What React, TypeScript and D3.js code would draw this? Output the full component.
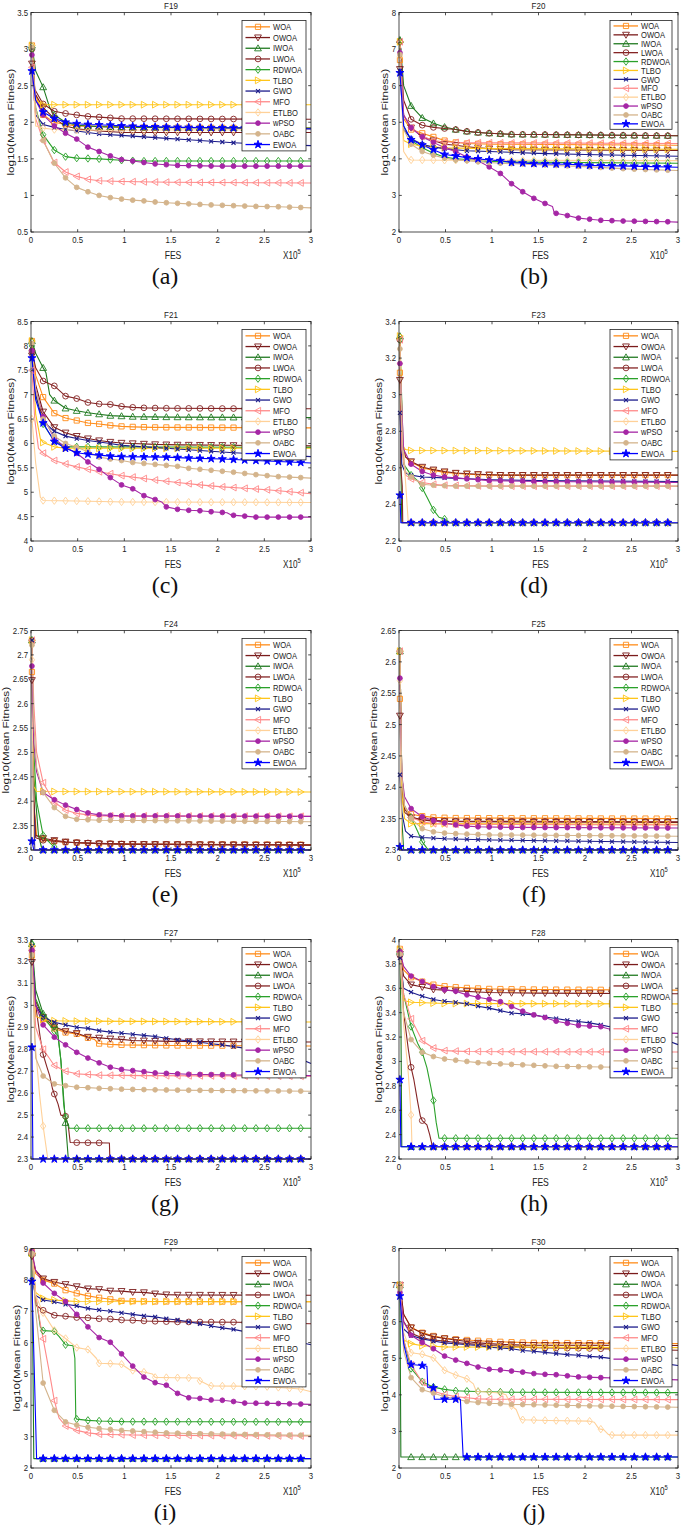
import React from "react";
import * as d3 from "d3";

type Pt = [number, number];

const ALGORITHMS = ["WOA", "OWOA", "IWOA", "LWOA", "RDWOA", "TLBO", "GWO", "MFO", "ETLBO", "wPSO", "OABC", "EWOA"];
const COLORS = ["#FF8C1A", "#7B1C1C", "#217A21", "#852424", "#2AA12A", "#FFC51A", "#1C1C8C", "#FF8A8A", "#FFD199", "#A526A5", "#D4B48C", "#0000FF"];
const MARKER_TYPES = ["square", "triDown", "triUp", "circle", "diamond", "triRight", "cross", "triLeft", "diamond", "dot", "dot", "star"];
const X_TICKS = [0, 0.5, 1, 1.5, 2, 2.5, 3];
const MARKER_FES = [0.01, 0.13, 0.25, 0.37, 0.49, 0.61, 0.73, 0.85, 0.97, 1.09, 1.21, 1.33, 1.45, 1.57, 1.69, 1.81, 1.93, 2.05, 2.17, 2.29, 2.41, 2.53, 2.65, 2.77, 2.89];

// ---------- F19 ----------
const F19_DATA: Pt[][] = [
  [[0.01, 3.05], [0.04, 2.4], [0.13, 2.1], [0.25, 2.0], [0.37, 1.97], [0.49, 1.95], [0.73, 1.94], [1.0, 1.93], [3.0, 1.92]],
  [[0.01, 2.8], [0.04, 2.4], [0.13, 2.2], [0.25, 2.05], [0.37, 1.95], [0.49, 1.91], [0.73, 1.88], [1.0, 1.86], [3.0, 1.86]],
  [[0.01, 3.05], [0.05, 2.7], [0.13, 2.48], [0.2, 2.2], [0.25, 2.1], [0.37, 2.0], [0.49, 1.96], [0.73, 1.94], [1.2, 1.93], [3.0, 1.92]],
  [[0.01, 3.0], [0.04, 2.45], [0.13, 2.25], [0.25, 2.15], [0.37, 2.12], [0.49, 2.1], [0.61, 2.08], [0.73, 2.07], [0.85, 2.06], [0.97, 2.05], [3.0, 2.04]],
  [[0.01, 3.0], [0.05, 2.2], [0.13, 1.83], [0.25, 1.62], [0.37, 1.53], [0.49, 1.51], [0.73, 1.5], [0.97, 1.48], [1.2, 1.47], [3.0, 1.47]],
  [[0.01, 3.05], [0.05, 2.3], [0.13, 2.24], [3.0, 2.24]],
  [[0.01, 2.7], [0.05, 2.1], [0.13, 1.97], [0.25, 1.93], [0.37, 1.9], [0.49, 1.88], [0.61, 1.86], [0.73, 1.84], [0.97, 1.82], [1.21, 1.8], [1.45, 1.78], [1.69, 1.76], [1.93, 1.74], [2.17, 1.72], [2.53, 1.7], [3.0, 1.68]],
  [[0.01, 2.75], [0.05, 2.05], [0.13, 1.75], [0.25, 1.45], [0.37, 1.32], [0.49, 1.26], [0.61, 1.22], [0.73, 1.2], [0.97, 1.19], [1.5, 1.18], [3.0, 1.17]],
  [[0.01, 3.05], [0.05, 1.95], [0.13, 1.92], [0.25, 1.9], [0.5, 1.89], [3.0, 1.9]],
  [[0.01, 2.92], [0.05, 2.3], [0.13, 2.1], [0.25, 1.95], [0.37, 1.85], [0.49, 1.77], [0.61, 1.66], [0.73, 1.6], [0.85, 1.54], [0.97, 1.49], [1.09, 1.47], [1.21, 1.45], [1.33, 1.43], [1.45, 1.42], [1.57, 1.41], [2.0, 1.4], [3.0, 1.4]],
  [[0.01, 3.02], [0.05, 2.2], [0.13, 1.75], [0.25, 1.44], [0.37, 1.24], [0.49, 1.11], [0.61, 1.05], [0.73, 1.0], [0.85, 0.97], [0.97, 0.95], [1.09, 0.935], [1.21, 0.925], [1.33, 0.91], [1.45, 0.9], [1.69, 0.885], [1.93, 0.87], [2.17, 0.86], [2.41, 0.85], [2.65, 0.845], [2.89, 0.835], [3.0, 0.83]],
  [[0.01, 2.7], [0.05, 2.3], [0.13, 2.14], [0.25, 2.05], [0.37, 2.0], [0.49, 1.98], [0.61, 1.97], [0.85, 1.96], [0.97, 1.95], [1.2, 1.94], [1.6, 1.93], [3.0, 1.91]],
];

// ---------- F20 ----------
const F20_DATA: Pt[][] = [
  [[0.01, 6.7], [0.05, 5.1], [0.13, 4.8], [0.25, 4.7], [0.37, 4.6], [0.49, 4.5], [0.61, 4.45], [0.73, 4.42], [1.0, 4.4], [3.0, 4.37]],
  [[0.01, 6.45], [0.05, 5.2], [0.13, 4.85], [0.25, 4.6], [0.37, 4.5], [0.49, 4.4], [0.61, 4.37], [0.73, 4.33], [0.85, 4.3], [0.97, 4.28], [1.21, 4.25], [3.0, 4.23]],
  [[0.01, 7.25], [0.05, 6.0], [0.13, 5.45], [0.25, 5.12], [0.37, 4.97], [0.49, 4.87], [0.61, 4.8], [0.73, 4.75], [0.85, 4.72], [0.97, 4.7], [1.21, 4.67], [3.0, 4.63]],
  [[0.01, 7.2], [0.05, 5.6], [0.13, 5.08], [0.25, 4.92], [0.37, 4.86], [0.49, 4.83], [0.61, 4.8], [0.73, 4.75], [0.85, 4.72], [0.97, 4.7], [1.21, 4.67], [3.0, 4.63]],
  [[0.01, 7.2], [0.05, 4.9], [0.13, 4.5], [0.25, 4.3], [0.37, 4.15], [0.49, 4.05], [0.61, 4.0], [0.73, 3.98], [0.97, 3.93], [1.3, 3.91], [3.0, 3.88]],
  [[0.01, 7.2], [0.05, 4.5], [0.13, 4.4], [0.25, 4.35], [0.49, 4.3], [1.0, 4.28], [3.0, 4.26]],
  [[0.01, 6.4], [0.05, 4.8], [0.13, 4.55], [0.25, 4.4], [0.37, 4.32], [0.49, 4.28], [0.61, 4.25], [0.73, 4.22], [0.97, 4.2], [1.5, 4.15], [2.0, 4.12], [3.0, 4.07]],
  [[0.01, 7.2], [0.05, 5.2], [0.13, 4.85], [0.25, 4.62], [0.37, 4.5], [0.49, 4.46], [0.73, 4.44], [3.0, 4.42]],
  [[0.01, 6.8], [0.05, 4.2], [0.1, 4.0], [0.13, 3.97], [0.49, 3.96], [1.0, 3.96], [3.0, 3.95]],
  [[0.01, 6.9], [0.05, 5.2], [0.13, 4.85], [0.25, 4.6], [0.37, 4.45], [0.49, 4.3], [0.61, 4.2], [0.73, 4.05], [0.85, 3.95], [0.97, 3.78], [1.09, 3.6], [1.21, 3.32], [1.33, 3.1], [1.45, 2.92], [1.57, 2.78], [1.65, 2.7], [1.67, 2.52], [1.81, 2.45], [1.93, 2.38], [2.05, 2.35], [2.17, 2.32], [2.29, 2.31], [2.41, 2.3], [2.65, 2.29], [2.89, 2.28], [3.0, 2.27]],
  [[0.01, 6.85], [0.05, 4.8], [0.13, 4.4], [0.25, 4.2], [0.37, 4.1], [0.49, 4.02], [0.61, 3.97], [0.73, 3.95], [0.85, 3.92], [0.97, 3.9], [1.09, 3.88], [1.5, 3.84], [2.05, 3.78], [2.5, 3.72], [3.0, 3.68]],
  [[0.01, 6.35], [0.05, 4.9], [0.13, 4.52], [0.25, 4.38], [0.37, 4.25], [0.49, 4.12], [0.61, 4.08], [0.73, 4.03], [0.85, 4.0], [0.97, 3.97], [1.09, 3.95], [1.21, 3.9], [1.45, 3.87], [1.81, 3.85], [2.05, 3.82], [2.5, 3.8], [3.0, 3.77]],
];

// ---------- F21 ----------
const F21_DATA: Pt[][] = [
  [[0.01, 8.1], [0.05, 7.4], [0.13, 6.95], [0.25, 6.62], [0.37, 6.52], [0.49, 6.47], [0.61, 6.42], [0.73, 6.4], [0.85, 6.37], [0.97, 6.35], [1.09, 6.34], [1.3, 6.33], [3.0, 6.32]],
  [[0.01, 7.8], [0.05, 7.2], [0.13, 6.65], [0.25, 6.33], [0.37, 6.22], [0.49, 6.15], [0.61, 6.1], [0.73, 6.06], [0.85, 6.03], [0.97, 6.01], [1.09, 6.0], [1.33, 5.98], [1.6, 5.97], [3.0, 5.95]],
  [[0.01, 8.1], [0.05, 7.85], [0.13, 7.55], [0.16, 7.45], [0.2, 7.0], [0.25, 6.88], [0.37, 6.72], [0.49, 6.67], [0.61, 6.63], [0.73, 6.6], [0.85, 6.57], [0.97, 6.56], [1.09, 6.55], [1.5, 6.54], [3.0, 6.53]],
  [[0.01, 7.9], [0.05, 7.55], [0.13, 7.28], [0.25, 7.18], [0.37, 6.97], [0.49, 6.92], [0.61, 6.84], [0.73, 6.81], [0.85, 6.8], [0.97, 6.76], [1.09, 6.74], [1.21, 6.73], [1.5, 6.72], [3.0, 6.71]],
  [[0.01, 8.0], [0.05, 7.0], [0.13, 6.4], [0.25, 6.05], [0.37, 5.93], [0.61, 5.93], [3.0, 5.92]],
  [[0.01, 8.1], [0.05, 6.6], [0.1, 6.1], [0.13, 6.02], [0.25, 5.93], [0.37, 5.9], [3.0, 5.9]],
  [[0.01, 7.8], [0.05, 7.0], [0.13, 6.45], [0.25, 6.25], [0.37, 6.15], [0.49, 6.1], [0.61, 6.06], [0.73, 6.03], [0.85, 6.0], [0.97, 5.96], [1.21, 5.93], [1.45, 5.9], [1.69, 5.87], [1.93, 5.84], [2.17, 5.81], [2.5, 5.78], [3.0, 5.73]],
  [[0.01, 7.5], [0.04, 6.5], [0.08, 5.9], [0.13, 5.8], [0.25, 5.65], [0.37, 5.58], [0.49, 5.52], [0.61, 5.47], [0.73, 5.42], [0.85, 5.38], [0.97, 5.34], [1.09, 5.31], [1.21, 5.28], [1.33, 5.25], [1.57, 5.2], [1.81, 5.15], [2.05, 5.11], [2.29, 5.08], [2.53, 5.05], [2.77, 5.01], [3.0, 4.97]],
  [[0.01, 6.5], [0.05, 5.6], [0.1, 4.9], [0.13, 4.83], [0.49, 4.82], [1.0, 4.8], [3.0, 4.79]],
  [[0.01, 7.9], [0.05, 7.1], [0.13, 6.55], [0.25, 6.1], [0.37, 5.92], [0.49, 5.8], [0.61, 5.62], [0.73, 5.47], [0.85, 5.3], [0.97, 5.15], [1.09, 5.07], [1.21, 4.93], [1.33, 4.85], [1.4, 4.8], [1.45, 4.7], [1.57, 4.65], [1.69, 4.63], [1.81, 4.62], [1.93, 4.6], [2.1, 4.58], [2.15, 4.53], [2.29, 4.51], [2.41, 4.49], [3.0, 4.49]],
  [[0.01, 8.05], [0.05, 7.1], [0.13, 6.5], [0.25, 6.15], [0.37, 6.0], [0.49, 5.92], [0.61, 5.83], [0.73, 5.72], [0.85, 5.68], [0.97, 5.65], [1.09, 5.61], [1.21, 5.59], [1.33, 5.57], [1.45, 5.55], [1.57, 5.53], [1.69, 5.49], [1.93, 5.45], [2.17, 5.41], [2.41, 5.36], [2.65, 5.32], [2.89, 5.3], [3.0, 5.29]],
  [[0.01, 7.75], [0.05, 6.9], [0.13, 6.42], [0.25, 6.04], [0.37, 5.9], [0.49, 5.81], [0.61, 5.78], [0.73, 5.76], [0.85, 5.74], [0.97, 5.73], [1.45, 5.72], [1.69, 5.7], [2.05, 5.68], [2.29, 5.66], [2.53, 5.64], [2.77, 5.62], [3.0, 5.6]],
];

// ---------- F23 ----------
const F23_DATA: Pt[][] = [
  [[0.01, 3.12], [0.03, 2.75], [0.07, 2.66], [0.13, 2.63], [0.25, 2.6], [0.37, 2.585], [0.49, 2.575], [0.73, 2.565], [1.0, 2.56], [3.0, 2.56]],
  [[0.01, 3.08], [0.03, 2.75], [0.07, 2.66], [0.13, 2.635], [0.25, 2.605], [0.37, 2.59], [0.49, 2.58], [0.61, 2.572], [0.85, 2.565], [1.1, 2.56], [3.0, 2.56]],
  [[0.01, 3.32], [0.02, 2.6], [0.03, 2.3], [3.0, 2.3]],
  [[0.01, 3.3], [0.02, 2.6], [0.035, 2.5], [0.04, 2.3], [3.0, 2.3]],
  [[0.01, 3.3], [0.05, 2.62], [0.13, 2.56], [0.2, 2.53], [0.25, 2.49], [0.3, 2.44], [0.37, 2.37], [0.43, 2.33], [0.49, 2.32], [0.55, 2.3], [3.0, 2.3]],
  [[0.01, 3.32], [0.04, 2.72], [0.07, 2.7], [0.13, 2.695], [3.0, 2.69]],
  [[0.01, 2.9], [0.03, 2.62], [0.07, 2.57], [0.13, 2.56], [0.25, 2.55], [0.49, 2.545], [1.0, 2.535], [1.5, 2.53], [3.0, 2.525]],
  [[0.01, 3.3], [0.03, 2.7], [0.07, 2.56], [0.13, 2.54], [0.25, 2.52], [0.37, 2.51], [0.49, 2.505], [1.0, 2.5], [3.0, 2.5]],
  [[0.01, 3.17], [0.03, 2.9], [0.06, 2.6], [0.1, 2.3], [3.0, 2.3]],
  [[0.01, 3.17], [0.05, 2.7], [0.13, 2.62], [0.25, 2.58], [0.37, 2.56], [0.49, 2.55], [0.61, 2.545], [0.73, 2.54], [0.97, 2.53], [1.5, 2.525], [3.0, 2.52]],
  [[0.01, 3.25], [0.04, 2.7], [0.07, 2.58], [0.13, 2.55], [0.25, 2.51], [0.37, 2.505], [0.6, 2.5], [3.0, 2.5]],
  [[0.01, 2.45], [0.02, 2.3], [3.0, 2.3]],
];

// ---------- F24 ----------
const F24_DATA: Pt[][] = [
  [[0.01, 2.665], [0.03, 2.4], [0.06, 2.33], [0.13, 2.322], [0.25, 2.318], [0.37, 2.316], [0.49, 2.315], [0.73, 2.313], [1.2, 2.312], [3.0, 2.311]],
  [[0.01, 2.648], [0.03, 2.4], [0.05, 2.33], [0.13, 2.324], [0.25, 2.32], [0.37, 2.317], [0.49, 2.315], [0.73, 2.313], [1.0, 2.312], [3.0, 2.31]],
  [[0.01, 2.73], [0.03, 2.45], [0.08, 2.33], [0.12, 2.3], [3.0, 2.3]],
  [[0.01, 2.73], [0.03, 2.4], [0.05, 2.325], [0.13, 2.32], [0.37, 2.316], [1.0, 2.312], [3.0, 2.31]],
  [[0.01, 2.73], [0.03, 2.5], [0.06, 2.4], [0.13, 2.33], [0.2, 2.315], [0.25, 2.306], [0.28, 2.3], [3.0, 2.3]],
  [[0.01, 2.73], [0.03, 2.43], [0.06, 2.42], [3.0, 2.419]],
  [[0.01, 2.73], [0.02, 2.45], [0.04, 2.3], [3.0, 2.3]],
  [[0.01, 2.73], [0.03, 2.6], [0.06, 2.5], [0.13, 2.438], [0.25, 2.398], [0.37, 2.382], [0.49, 2.375], [0.61, 2.372], [0.73, 2.37], [3.0, 2.369]],
  [[0.01, 2.69], [0.02, 2.45], [0.03, 2.3], [3.0, 2.3]],
  [[0.01, 2.677], [0.03, 2.52], [0.06, 2.46], [0.13, 2.418], [0.25, 2.403], [0.37, 2.392], [0.49, 2.383], [0.61, 2.376], [0.73, 2.372], [0.85, 2.371], [0.97, 2.37], [3.0, 2.369]],
  [[0.01, 2.72], [0.03, 2.56], [0.06, 2.47], [0.13, 2.418], [0.25, 2.387], [0.37, 2.369], [0.49, 2.363], [0.61, 2.362], [0.73, 2.361], [1.5, 2.36], [3.0, 2.358]],
  [[0.01, 2.318], [0.03, 2.3], [3.0, 2.3]],
];

// ---------- F25 ----------
const F25_DATA: Pt[][] = [
  [[0.01, 2.541], [0.03, 2.4], [0.06, 2.365], [0.13, 2.357], [0.25, 2.354], [0.37, 2.352], [0.6, 2.351], [3.0, 2.35]],
  [[0.01, 2.514], [0.03, 2.39], [0.06, 2.36], [0.13, 2.352], [0.25, 2.348], [0.37, 2.346], [0.7, 2.345], [3.0, 2.344]],
  [[0.01, 2.617], [0.03, 2.35], [0.05, 2.3], [3.0, 2.3]],
  [[0.01, 2.617], [0.03, 2.42], [0.06, 2.365], [0.13, 2.352], [0.25, 2.348], [0.5, 2.346], [3.0, 2.345]],
  [[0.01, 2.617], [0.03, 2.42], [0.06, 2.37], [0.13, 2.352], [0.2, 2.33], [0.25, 2.313], [0.3, 2.303], [0.33, 2.3], [3.0, 2.3]],
  [[0.01, 2.617], [0.03, 2.39], [0.06, 2.35], [0.13, 2.342], [3.0, 2.341]],
  [[0.01, 2.42], [0.03, 2.36], [0.07, 2.33], [0.13, 2.322], [0.25, 2.32], [0.49, 2.318], [1.0, 2.316], [2.0, 2.314], [3.0, 2.312]],
  [[0.01, 2.617], [0.03, 2.42], [0.06, 2.37], [0.13, 2.352], [0.25, 2.345], [0.37, 2.342], [0.6, 2.341], [3.0, 2.34]],
  [[0.01, 2.57], [0.02, 2.4], [0.03, 2.3], [3.0, 2.3]],
  [[0.01, 2.574], [0.03, 2.42], [0.06, 2.385], [0.13, 2.366], [0.25, 2.353], [0.37, 2.347], [0.49, 2.343], [0.61, 2.34], [0.73, 2.338], [0.85, 2.337], [1.2, 2.336], [3.0, 2.335]],
  [[0.01, 2.617], [0.03, 2.42], [0.06, 2.37], [0.13, 2.35], [0.25, 2.334], [0.37, 2.329], [0.49, 2.327], [0.61, 2.326], [1.0, 2.324], [3.0, 2.322]],
  [[0.01, 2.305], [0.03, 2.3], [3.0, 2.3]],
];

// ---------- F27 ----------
const F27_DATA: Pt[][] = [
  [[0.01, 3.227], [0.05, 3.0], [0.13, 2.938], [0.25, 2.895], [0.37, 2.876], [0.49, 2.87], [0.61, 2.852], [0.68, 2.845], [0.72, 2.826], [0.85, 2.822], [0.97, 2.82], [1.5, 2.817], [3.0, 2.815]],
  [[0.01, 3.197], [0.05, 3.02], [0.13, 2.946], [0.25, 2.903], [0.37, 2.882], [0.49, 2.873], [0.61, 2.856], [0.73, 2.852], [0.85, 2.848], [0.97, 2.845], [1.09, 2.84], [1.5, 2.836], [3.0, 2.833]],
  [[0.01, 3.28], [0.05, 3.07], [0.13, 2.962], [0.2, 2.93], [0.28, 2.9], [0.32, 2.75], [0.36, 2.52], [0.4, 2.3], [3.0, 2.3]],
  [[0.01, 3.25], [0.05, 3.0], [0.1, 2.85], [0.13, 2.776], [0.17, 2.72], [0.2, 2.68], [0.23, 2.62], [0.25, 2.596], [0.29, 2.55], [0.32, 2.5], [0.37, 2.495], [0.4, 2.45], [0.42, 2.375], [0.84, 2.373], [0.845, 2.3], [3.0, 2.3]],
  [[0.01, 3.28], [0.05, 3.03], [0.13, 2.95], [0.25, 2.882], [0.29, 2.86], [0.32, 2.75], [0.35, 2.55], [0.37, 2.49], [0.41, 2.44], [3.0, 2.44]],
  [[0.01, 3.27], [0.05, 2.95], [0.13, 2.935], [0.25, 2.93], [0.49, 2.928], [3.0, 2.924]],
  [[0.01, 3.27], [0.05, 3.0], [0.13, 2.946], [0.25, 2.923], [0.37, 2.911], [0.49, 2.9], [0.61, 2.895], [0.73, 2.885], [0.85, 2.878], [0.97, 2.873], [1.09, 2.868], [1.21, 2.863], [1.33, 2.858], [1.45, 2.85], [1.57, 2.843], [1.69, 2.838], [1.81, 2.832], [1.93, 2.825], [2.05, 2.82], [2.17, 2.812], [2.29, 2.805], [2.41, 2.797], [2.53, 2.79], [2.65, 2.78], [2.77, 2.77], [2.89, 2.755], [3.0, 2.735]],
  [[0.01, 3.25], [0.05, 2.9], [0.13, 2.8], [0.25, 2.726], [0.37, 2.7], [0.49, 2.688], [0.61, 2.685], [0.73, 2.682], [1.2, 2.68], [3.0, 2.677]],
  [[0.01, 3.26], [0.04, 2.85], [0.09, 2.6], [0.13, 2.45], [0.18, 2.3], [3.0, 2.3]],
  [[0.01, 3.25], [0.05, 3.0], [0.13, 2.911], [0.25, 2.855], [0.37, 2.82], [0.49, 2.786], [0.61, 2.76], [0.73, 2.738], [0.85, 2.718], [0.97, 2.708], [1.09, 2.703], [1.21, 2.698], [1.33, 2.692], [1.45, 2.69], [1.69, 2.686], [2.2, 2.683], [3.0, 2.68]],
  [[0.01, 3.23], [0.05, 2.76], [0.13, 2.678], [0.25, 2.642], [0.37, 2.634], [0.49, 2.627], [0.61, 2.625], [0.73, 2.622], [0.97, 2.618], [1.5, 2.614], [2.0, 2.612], [3.0, 2.609]],
  [[0.01, 2.809], [0.02, 2.3], [3.0, 2.3]],
];

// ---------- F28 ----------
const F28_DATA: Pt[][] = [
  [[0.01, 3.923], [0.05, 3.75], [0.13, 3.69], [0.25, 3.655], [0.37, 3.63], [0.49, 3.617], [0.61, 3.609], [0.73, 3.603], [0.97, 3.595], [1.5, 3.59], [3.0, 3.585]],
  [[0.01, 3.88], [0.05, 3.7], [0.13, 3.63], [0.25, 3.61], [0.37, 3.59], [0.49, 3.585], [0.61, 3.58], [0.73, 3.575], [0.85, 3.57], [0.97, 3.565], [1.5, 3.56], [3.0, 3.555]],
  [[0.01, 3.9], [0.02, 3.4], [0.03, 2.3], [3.0, 2.3]],
  [[0.01, 3.87], [0.05, 3.4], [0.1, 3.1], [0.13, 2.952], [0.16, 2.85], [0.2, 2.67], [0.23, 2.55], [0.25, 2.515], [0.3, 2.48], [0.33, 2.4], [0.36, 2.3], [3.0, 2.3]],
  [[0.01, 3.9], [0.05, 3.55], [0.13, 3.286], [0.2, 3.15], [0.25, 3.075], [0.3, 2.95], [0.34, 2.8], [0.37, 2.68], [0.4, 2.5], [0.43, 2.37], [3.0, 2.37]],
  [[0.01, 3.92], [0.05, 3.5], [0.13, 3.485], [0.5, 3.475], [3.0, 3.472]],
  [[0.01, 3.85], [0.05, 3.6], [0.13, 3.568], [0.25, 3.535], [0.37, 3.508], [0.49, 3.494], [0.61, 3.485], [0.73, 3.472], [0.85, 3.453], [0.97, 3.437], [1.09, 3.417], [1.21, 3.397], [1.33, 3.39], [1.45, 3.382], [1.57, 3.365], [1.69, 3.352], [1.81, 3.337], [1.93, 3.328], [2.05, 3.316], [2.17, 3.3], [2.29, 3.28], [2.41, 3.26], [2.53, 3.24], [2.65, 3.22], [2.77, 3.2], [2.89, 3.17], [3.0, 3.138]],
  [[0.01, 3.9], [0.05, 3.55], [0.13, 3.35], [0.25, 3.17], [0.37, 3.11], [0.49, 3.089], [0.61, 3.085], [0.73, 3.082], [1.2, 3.08], [3.0, 3.078]],
  [[0.01, 3.92], [0.05, 3.3], [0.1, 2.9], [0.13, 2.561], [0.14, 2.3], [3.0, 2.3]],
  [[0.01, 3.9], [0.05, 3.78], [0.13, 3.7], [0.25, 3.655], [0.37, 3.614], [0.49, 3.587], [0.61, 3.576], [0.73, 3.546], [0.85, 3.527], [0.97, 3.51], [1.09, 3.49], [1.21, 3.45], [1.33, 3.412], [1.45, 3.382], [1.57, 3.36], [1.69, 3.33], [1.81, 3.313], [1.93, 3.295], [2.05, 3.29], [2.17, 3.285], [2.29, 3.26], [2.41, 3.25], [2.6, 3.24], [3.0, 3.23]],
  [[0.01, 3.88], [0.05, 3.4], [0.13, 3.179], [0.25, 3.075], [0.37, 3.04], [0.49, 3.02], [0.61, 3.01], [0.73, 3.0], [0.85, 2.99], [0.97, 2.985], [1.09, 2.98], [1.7, 2.96], [3.0, 2.944]],
  [[0.01, 2.851], [0.02, 2.3], [3.0, 2.3]],
];

// ---------- F29 ----------
const F29_DATA: Pt[][] = [
  [[0.01, 8.9], [0.05, 8.2], [0.13, 8.0], [0.25, 7.88], [0.37, 7.67], [0.49, 7.57], [0.61, 7.49], [0.73, 7.43], [0.85, 7.38], [0.97, 7.33], [1.09, 7.32], [1.3, 7.31], [3.0, 7.3]],
  [[0.01, 8.75], [0.05, 8.3], [0.13, 8.04], [0.25, 7.93], [0.37, 7.86], [0.49, 7.79], [0.61, 7.72], [0.73, 7.7], [0.85, 7.65], [0.97, 7.64], [1.09, 7.61], [1.21, 7.6], [1.33, 7.56], [1.45, 7.53], [1.57, 7.52], [3.0, 7.51]],
  [[0.01, 8.85], [0.03, 2.3], [3.0, 2.3]],
  [[0.01, 8.85], [0.05, 7.2], [0.13, 7.03], [0.25, 6.87], [0.37, 6.84], [0.49, 6.8], [0.61, 6.79], [0.73, 6.76], [0.85, 6.75], [0.97, 6.72], [1.09, 6.71], [1.21, 6.69], [1.45, 6.67], [1.57, 6.66], [2.2, 6.65], [3.0, 6.6]],
  [[0.01, 8.85], [0.05, 7.5], [0.1, 6.5], [0.13, 6.38], [0.25, 6.36], [0.3, 6.2], [0.37, 5.93], [0.45, 5.9], [0.47, 5.5], [0.48, 3.6], [0.49, 3.56], [0.61, 3.52], [0.73, 3.5], [1.0, 3.48], [3.0, 3.47]],
  [[0.01, 8.85], [0.05, 7.6], [0.13, 7.41], [0.25, 7.36], [0.37, 7.33], [0.49, 7.31], [3.0, 7.3]],
  [[0.01, 8.0], [0.05, 7.5], [0.13, 7.36], [0.25, 7.3], [0.37, 7.22], [0.49, 7.17], [0.61, 7.09], [0.73, 7.04], [0.85, 7.0], [0.97, 6.95], [1.09, 6.9], [1.21, 6.85], [1.33, 6.82], [1.45, 6.76], [1.57, 6.72], [1.69, 6.66], [1.81, 6.6], [1.93, 6.53], [2.05, 6.47], [2.17, 6.42], [2.29, 6.35], [2.41, 6.28], [2.53, 6.2], [2.65, 6.14], [2.77, 6.06], [2.89, 6.0], [3.0, 5.93]],
  [[0.01, 8.85], [0.05, 7.5], [0.1, 6.6], [0.13, 6.12], [0.2, 5.0], [0.25, 4.15], [0.3, 3.6], [0.37, 3.34], [0.49, 3.2], [0.61, 3.12], [0.73, 3.08], [0.85, 3.07], [0.97, 3.06], [1.09, 3.05], [1.5, 3.04], [3.0, 3.02]],
  [[0.01, 8.85], [0.05, 7.5], [0.13, 6.95], [0.25, 6.39], [0.37, 6.13], [0.49, 5.84], [0.61, 5.78], [0.7, 5.5], [0.73, 5.34], [0.85, 5.33], [0.97, 5.31], [1.05, 5.15], [1.09, 5.11], [1.21, 5.06], [1.3, 5.0], [1.33, 4.89], [1.57, 4.88], [1.79, 4.87], [1.81, 4.78], [1.9, 4.65], [1.93, 4.62], [2.5, 4.6], [2.89, 4.52], [3.0, 4.43]],
  [[0.01, 8.9], [0.05, 8.3], [0.13, 7.9], [0.25, 7.57], [0.37, 7.31], [0.49, 6.9], [0.61, 6.5], [0.73, 6.16], [0.85, 6.01], [0.97, 5.64], [1.09, 5.25], [1.21, 4.9], [1.33, 4.72], [1.45, 4.64], [1.57, 4.38], [1.69, 4.24], [1.81, 4.22], [1.93, 4.17], [2.05, 4.16], [2.17, 4.12], [2.29, 4.07], [2.6, 4.06], [3.0, 4.03]],
  [[0.01, 8.85], [0.05, 7.0], [0.13, 4.71], [0.25, 3.84], [0.37, 3.47], [0.49, 3.37], [0.61, 3.3], [0.73, 3.26], [0.85, 3.23], [0.97, 3.2], [1.09, 3.18], [1.21, 3.16], [1.33, 3.14], [1.45, 3.12], [1.69, 3.1], [2.5, 3.06], [3.0, 3.04]],
  [[0.01, 7.95], [0.06, 2.3], [3.0, 2.3]],
];

// ---------- F30 ----------
const F30_DATA: Pt[][] = [
  [[0.01, 7.0], [0.05, 6.2], [0.13, 5.84], [0.25, 5.7], [0.37, 5.61], [0.49, 5.55], [0.61, 5.52], [0.73, 5.5], [0.85, 5.48], [0.97, 5.46], [1.09, 5.45], [1.21, 5.44], [1.5, 5.42], [3.0, 5.4]],
  [[0.01, 7.0], [0.05, 6.2], [0.13, 5.84], [0.25, 5.68], [0.37, 5.59], [0.49, 5.54], [0.61, 5.5], [0.73, 5.46], [0.85, 5.42], [0.97, 5.4], [1.09, 5.38], [1.33, 5.36], [3.0, 5.35]],
  [[0.01, 7.0], [0.02, 2.3], [3.0, 2.3]],
  [[0.01, 7.0], [0.05, 6.0], [0.13, 5.68], [0.25, 5.56], [0.37, 5.5], [0.49, 5.47], [0.61, 5.43], [0.73, 5.4], [0.85, 5.38], [0.97, 5.35], [1.09, 5.34], [1.21, 5.32], [1.45, 5.29], [2.0, 5.27], [3.0, 5.22]],
  [[0.01, 7.0], [0.05, 5.5], [0.13, 4.72], [0.25, 4.36], [0.37, 4.21], [0.49, 4.15], [0.61, 4.11], [0.73, 4.1], [0.85, 4.09], [1.2, 4.07], [3.0, 4.06]],
  [[0.01, 7.0], [0.05, 5.5], [0.13, 5.4], [0.25, 5.34], [0.37, 5.33], [0.49, 5.31], [3.0, 5.29]],
  [[0.01, 6.8], [0.05, 5.8], [0.13, 5.62], [0.25, 5.53], [0.37, 5.47], [0.49, 5.42], [0.61, 5.4], [0.73, 5.37], [0.85, 5.35], [0.97, 5.3], [1.09, 5.28], [1.21, 5.26], [1.33, 5.21], [1.45, 5.19], [1.57, 5.16], [1.69, 5.13], [1.81, 5.1], [1.93, 5.08], [2.05, 5.05], [2.17, 5.03], [2.29, 4.99], [2.41, 4.96], [2.53, 4.93], [2.65, 4.9], [2.77, 4.87], [2.89, 4.84], [3.0, 4.8]],
  [[0.01, 7.0], [0.05, 5.5], [0.13, 4.82], [0.25, 4.34], [0.37, 4.1], [0.49, 4.01], [0.61, 3.95], [0.73, 3.92], [0.85, 3.89], [1.0, 3.88], [3.0, 3.87]],
  [[0.01, 7.0], [0.05, 5.7], [0.13, 5.15], [0.25, 5.11], [0.37, 5.01], [0.49, 4.67], [0.61, 4.54], [0.73, 4.44], [0.8, 4.3], [0.83, 4.1], [0.97, 4.07], [1.09, 4.05], [1.15, 4.0], [1.21, 3.7], [1.26, 3.6], [1.3, 3.35], [1.33, 3.32], [1.6, 3.3], [2.05, 3.28], [2.1, 3.25], [2.15, 3.07], [2.2, 3.05], [2.25, 2.92], [2.29, 2.9], [3.0, 2.9]],
  [[0.01, 6.8], [0.05, 6.0], [0.13, 5.63], [0.25, 5.43], [0.37, 5.26], [0.49, 5.06], [0.61, 4.95], [0.73, 4.86], [0.85, 4.76], [0.97, 4.7], [1.09, 4.68], [1.21, 4.65], [1.33, 4.62], [1.45, 4.58], [1.57, 4.56], [1.69, 4.55], [1.81, 4.52], [1.93, 4.49], [2.17, 4.47], [2.65, 4.44], [3.0, 4.41]],
  [[0.01, 6.9], [0.05, 5.2], [0.13, 4.47], [0.25, 4.14], [0.37, 4.05], [0.49, 3.95], [0.61, 3.89], [0.73, 3.82], [0.85, 3.79], [0.97, 3.77], [1.09, 3.76], [1.21, 3.74], [1.45, 3.73], [2.0, 3.7], [3.0, 3.66]],
  [[0.01, 6.7], [0.05, 5.4], [0.1, 4.85], [0.13, 4.83], [0.25, 4.8], [0.3, 4.78], [0.31, 4.2], [0.37, 4.19], [0.38, 3.88], [0.66, 3.88], [0.69, 2.3], [3.0, 2.3]],
];

const Y_TICKS_F19 = [0.5, 1, 1.5, 2, 2.5, 3, 3.5];
const Y_TICKS_F20 = [2, 3, 4, 5, 6, 7, 8];
const Y_TICKS_F21 = [4, 4.5, 5, 5.5, 6, 6.5, 7, 7.5, 8, 8.5];
const Y_TICKS_F23 = [2.2, 2.4, 2.6, 2.8, 3, 3.2, 3.4];
const Y_TICKS_F24 = [2.3, 2.35, 2.4, 2.45, 2.5, 2.55, 2.6, 2.65, 2.7, 2.75];
const Y_TICKS_F25 = [2.3, 2.35, 2.4, 2.45, 2.5, 2.55, 2.6, 2.65];
const Y_TICKS_F27 = [2.3, 2.4, 2.5, 2.6, 2.7, 2.8, 2.9, 3, 3.1, 3.2, 3.3];
const Y_TICKS_F28 = [2.2, 2.4, 2.6, 2.8, 3, 3.2, 3.4, 3.6, 3.8, 4];
const Y_TICKS_F29 = [2, 3, 4, 5, 6, 7, 8, 9];
const Y_TICKS_F30 = [2, 3, 4, 5, 6, 7, 8];

const PANELS = [
  { title: "F19", caption: "(a)", ticks: Y_TICKS_F19, data: F19_DATA, legendRow: 10.7 },
  { title: "F20", caption: "(b)", ticks: Y_TICKS_F20, data: F20_DATA, legendRow: 8.9 },
  { title: "F21", caption: "(c)", ticks: Y_TICKS_F21, data: F21_DATA, legendRow: 10.7 },
  { title: "F23", caption: "(d)", ticks: Y_TICKS_F23, data: F23_DATA, legendRow: 10.7 },
  { title: "F24", caption: "(e)", ticks: Y_TICKS_F24, data: F24_DATA, legendRow: 10.7 },
  { title: "F25", caption: "(f)", ticks: Y_TICKS_F25, data: F25_DATA, legendRow: 10.7 },
  { title: "F27", caption: "(g)", ticks: Y_TICKS_F27, data: F27_DATA, legendRow: 10.7 },
  { title: "F28", caption: "(h)", ticks: Y_TICKS_F28, data: F28_DATA, legendRow: 10.7 },
  { title: "F29", caption: "(i)", ticks: Y_TICKS_F29, data: F29_DATA, legendRow: 10.7 },
  { title: "F30", caption: "(j)", ticks: Y_TICKS_F30, data: F30_DATA, legendRow: 10.7 },
];

const SANS = "'Liberation Sans', Arial, sans-serif";
const SERIF = "'Liberation Serif', 'DejaVu Serif', serif";
const VSTRETCH = 1.22;
const TICK_FONT = 7.8;

function valueAt(pts: Pt[], x: number): number {
  for (let i = 1; i < pts.length; i++) {
    if (x <= pts[i][0]) {
      const [x0, y0] = pts[i - 1];
      const [x1, y1] = pts[i];
      const t = (x - x0) / (x1 - x0);
      return y0 + t * (y1 - y0);
    }
  }
  return pts[pts.length - 1][1];
}

function labelWidth(s: string, size: number): number {
  let w = 0;
  for (const ch of s) w += ch === "." ? 0.278 : 0.556;
  return w * size;
}

function markerPath(type: string): string {
  switch (type) {
    case "square": return "M-2.6,-2.6H2.6V2.6H-2.6Z";
    case "triDown": return "M0,3.4L-3.4,-2.6L3.4,-2.6Z";
    case "triUp": return "M0,-3.4L-3.4,2.6L3.4,2.6Z";
    case "triRight": return "M3.4,0L-2.6,-3.4L-2.6,3.4Z";
    case "triLeft": return "M-3.4,0L2.6,-3.4L2.6,3.4Z";
    case "circle": return d3.symbol(d3.symbolCircle, 26)() as string;
    case "diamond": return "M0,-3.7L2.7,0L0,3.7L-2.7,0Z";
    case "cross": return "M-2,-2L2,2M-2,2L2,-2";
    case "dot": return d3.symbol(d3.symbolCircle, 18)() as string;
    case "star": return d3.symbol(d3.symbolStar, 20)() as string;
    default: return "";
  }
}

function Marker({ type, color, x, y }: { type: string; color: string; x: number; y: number }) {
  const filled = type === "dot" || type === "star";
  return (
    <path
      d={markerPath(type)}
      transform={`translate(${x},${y})`}
      fill={filled ? color : "none"}
      stroke={color}
      strokeWidth={type === "cross" ? 1.1 : 0.9}
      strokeLinejoin="round"
    />
  );
}

function STxt({ x, y, children, anchor = "middle", size = TICK_FONT }: any) {
  return (
    <text
      transform={`translate(${x},${y}) scale(1,${VSTRETCH})`}
      textAnchor={anchor}
      fontFamily={SANS}
      fontSize={size}
      fill="#222"
    >
      {children}
    </text>
  );
}

function Panel({ idx }: { idx: number }) {
  const p = PANELS[idx];
  const col = idx % 2;
  const row = Math.floor(idx / 2);
  const left = col === 0 ? 31 : 399;
  const right = col === 0 ? 311 : 678;
  const top = 12.5 + 309 * row;
  const bottom = top + 219.5;
  const yMin = p.ticks[0];
  const yMax = p.ticks[p.ticks.length - 1];
  const sx = d3.scaleLinear().domain([0, 3]).range([left, right]);
  const sy = d3.scaleLinear().domain([yMin, yMax]).range([bottom, top]);
  const line = d3.line<Pt>().x((d) => sx(d[0])).y((d) => sy(d[1]));
  const clipId = `clip-${idx}`;
  const cx = (left + right) / 2;
  const tl = 2.8;

  const maxLabel = Math.max(...p.ticks.map((t) => labelWidth(String(t), TICK_FONT)));
  const yLabelCenter = left - 3 - maxLabel - 7;

  const lx = col === 0 ? 242 : 610;
  const lw = col === 0 ? 64 : 62;
  const ly = top + 8;
  const lh = p.legendRow * 12 + 2;

  return (
    <g>
      <defs>
        <clipPath id={clipId}>
          <rect x={left - 1} y={top - 1} width={right - left + 2} height={bottom - top + 2} />
        </clipPath>
      </defs>
      <rect x={left} y={top} width={right - left} height={bottom - top} fill="#fff" />
      <g clipPath={`url(#${clipId})`}>
        {p.data.map((pts, i) => (
          <path key={i} d={line(pts) as string} fill="none" stroke={COLORS[i]} strokeWidth={1.1} strokeLinejoin="round" />
        ))}
      </g>
      {p.data.map((pts, i) => (
        <g key={i}>
          {MARKER_FES.filter((x) => x <= pts[pts.length - 1][0]).map((x, k) => (
            <Marker key={k} type={MARKER_TYPES[i]} color={COLORS[i]} x={sx(x)} y={sy(valueAt(pts, x))} />
          ))}
        </g>
      ))}
      <rect x={left} y={top} width={right - left} height={bottom - top} fill="none" stroke="#222" strokeWidth={0.8} />
      {X_TICKS.map((t) => (
        <g key={t}>
          <line x1={sx(t)} x2={sx(t)} y1={bottom} y2={bottom - tl} stroke="#222" strokeWidth={0.8} />
          <line x1={sx(t)} x2={sx(t)} y1={top} y2={top + tl} stroke="#222" strokeWidth={0.8} />
          <STxt x={sx(t)} y={bottom + 10.5}>{String(t)}</STxt>
        </g>
      ))}
      {p.ticks.map((t) => (
        <g key={t}>
          <line x1={left} x2={left + tl} y1={sy(t)} y2={sy(t)} stroke="#222" strokeWidth={0.8} />
          <line x1={right} x2={right - tl} y1={sy(t)} y2={sy(t)} stroke="#222" strokeWidth={0.8} />
          <STxt x={left - 3} y={sy(t) + 3} anchor="end">{String(t)}</STxt>
        </g>
      ))}
      <STxt x={cx} y={top - 3.5} size={8}>{p.title}</STxt>
      <STxt x={cx + 2} y={bottom + 27} size={8.6}>FES</STxt>
      <text transform={`translate(${right - 28},${bottom + 27}) scale(1,${VSTRETCH})`} fontFamily={SANS} fontSize={8.2} fill="#222">
        X10<tspan fontSize={5.8} dy={-4}>5</tspan>
      </text>
      <text
        transform={`translate(${yLabelCenter + 3.5},${(top + bottom) / 2}) rotate(-90) scale(${VSTRETCH},1)`}
        textAnchor="middle"
        fontFamily={SANS}
        fontSize={9.6}
        fill="#222"
      >
        log10(Mean Fitness)
      </text>
      <rect x={lx} y={ly} width={lw} height={lh} fill="#fff" stroke="#222" strokeWidth={0.8} />
      {ALGORITHMS.map((name, i) => {
        const yy = ly + 1 + p.legendRow * (i + 0.5);
        return (
          <g key={name}>
            <line x1={lx + 3.5} x2={lx + 28} y1={yy} y2={yy} stroke={COLORS[i]} strokeWidth={1.3} />
            <Marker type={MARKER_TYPES[i]} color={COLORS[i]} x={lx + 16} y={yy} />
            <STxt x={lx + 31} y={yy + 3.2} anchor="start" size={7.6}>{name}</STxt>
          </g>
        );
      })}
      <text
        x={col === 0 ? 165 : 534}
        y={bottom + 52}
        textAnchor="middle"
        fontFamily={SERIF}
        fontSize={24}
        fill="#111"
      >
        {p.caption}
      </text>
    </g>
  );
}

export default function App() {
  return (
    <svg
      width={685}
      height={1527}
      viewBox="0 0 685 1527"
      style={{ position: "absolute", left: 0, top: 0, display: "block", background: "#fff" }}
    >
      <rect x={0} y={0} width={685} height={1527} fill="#fff" />
      {PANELS.map((_, i) => (
        <Panel key={i} idx={i} />
      ))}
    </svg>
  );
}
